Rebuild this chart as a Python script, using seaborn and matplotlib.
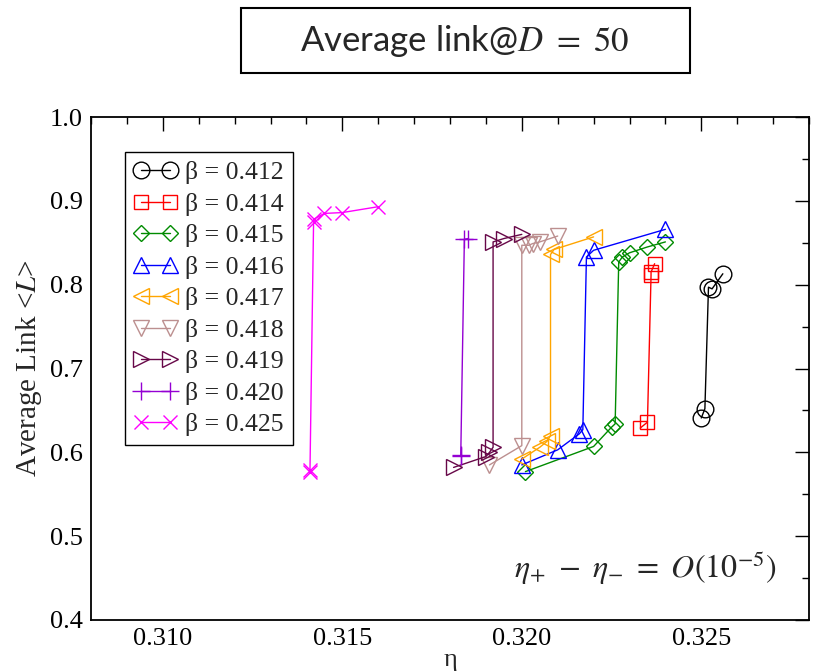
import matplotlib
matplotlib.use("Agg")
import matplotlib.pyplot as plt
import seaborn as sns
import pandas as pd
from matplotlib.ticker import MultipleLocator, FormatStrFormatter
from matplotlib.patches import Rectangle

# ---- data ----
labels = ["β = 0.412", "β = 0.414", "β = 0.415", "β = 0.416", "β = 0.417",
          "β = 0.418", "β = 0.419", "β = 0.420", "β = 0.425"]

eta_412 = [0.3250, 0.3251, 0.3252, 0.3253, 0.3256]
L_412 = [0.641, 0.652, 0.797, 0.795, 0.813]

eta_414 = [0.3233, 0.3235, 0.3236, 0.3236, 0.3237]
L_414 = [0.629, 0.636, 0.811, 0.815, 0.825]

eta_415 = [0.3201, 0.3220, 0.3225, 0.3226, 0.3227, 0.3228, 0.3230, 0.3235, 0.3240]
L_415 = [0.577, 0.607, 0.630, 0.634, 0.827, 0.833, 0.838, 0.845, 0.851]

eta_416 = [0.3200, 0.3210, 0.3216, 0.3217, 0.3218, 0.3220, 0.3240]
L_416 = [0.585, 0.603, 0.622, 0.627, 0.833, 0.841, 0.866]

eta_417 = [0.3200, 0.3205, 0.3207, 0.3208, 0.3208, 0.3209, 0.3220]
L_417 = [0.592, 0.606, 0.613, 0.620, 0.836, 0.842, 0.857]

eta_418 = [0.3191, 0.3200, 0.3200, 0.3202, 0.3203, 0.3205, 0.3210]
L_418 = [0.585, 0.608, 0.847, 0.847, 0.849, 0.851, 0.858]

eta_419 = [0.3181, 0.3190, 0.3191, 0.3192, 0.3192, 0.3195, 0.3200]
L_419 = [0.582, 0.595, 0.600, 0.606, 0.851, 0.855, 0.860]

eta_420 = [0.3183, 0.3183, 0.3184, 0.3185]
L_420 = [0.596, 0.597, 0.854, 0.855]

eta_425 = [0.3141, 0.3141, 0.3142, 0.3142, 0.3145, 0.3150, 0.3160]
L_425 = [0.577, 0.579, 0.875, 0.878, 0.885, 0.886, 0.893]

etas = [eta_412, eta_414, eta_415, eta_416, eta_417, eta_418, eta_419, eta_420, eta_425]
Ls = [L_412, L_414, L_415, L_416, L_417, L_418, L_419, L_420, L_425]

colors = ["#000000", "#FF0000", "#008B00", "#0000FF", "#FFA500",
          "#BC8F8F", "#670748", "#9400D3", "#FF00FF"]
markers = ["o", "s", "D", "^", "<", "v", ">", "+", "x"]
msizes = [12, 10, 8, 12, 12, 12, 12, 13, 10]

# ---- style ----
sns.set_theme(style="white")
plt.rcParams["font.family"] = ["Liberation Serif", "DejaVu Serif"]
plt.rcParams["mathtext.fontset"] = "stix"

fig = plt.figure(figsize=(8.16, 6.71), dpi=100)
ax = fig.add_axes([91 / 816, 1 - 620 / 671, 718 / 816, 503 / 671])

for x, y, lab, c, m, ms in zip(etas, Ls, labels, colors, markers, msizes):
    df = pd.DataFrame({"eta": x, "L": y})
    sns.lineplot(data=df, x="eta", y="L", ax=ax, estimator=None, sort=False,
                 color=c, marker=m, markersize=ms, mfc="none", mec=c, mew=1.0,
                 lw=1.0, label=lab)

ax.set_xlim(0.308, 0.328)
ax.set_ylim(0.4, 1.0)
ax.xaxis.set_major_locator(MultipleLocator(0.005))
ax.xaxis.set_minor_locator(MultipleLocator(0.001))
ax.yaxis.set_major_locator(MultipleLocator(0.1))
ax.yaxis.set_minor_locator(MultipleLocator(0.05))
ax.xaxis.set_major_formatter(FormatStrFormatter("%.3f"))
ax.yaxis.set_major_formatter(FormatStrFormatter("%.1f"))
ax.tick_params(which="both", direction="in", top=True, right=True,
               colors="black", labelsize=19, width=1.0)
ax.tick_params(which="major", length=10, pad=6)
ax.tick_params(which="minor", length=5)
for s in ax.spines.values():
    s.set_color("black")
    s.set_linewidth(1.3)

ax.set_xlabel("η", fontsize=19, labelpad=-1)
ax.set_ylabel(r"Average Link <$L$>", fontsize=21, labelpad=4)

leg = ax.legend(loc="upper left", bbox_to_anchor=(0.047, 0.93), numpoints=2,
                handlelength=1.7, handletextpad=0.3, labelspacing=0.33,
                borderpad=0.35, fontsize=18.5, frameon=True, fancybox=False,
                framealpha=1, edgecolor="black", borderaxespad=0)
leg.get_frame().set_linewidth(1.0)

ax.text(0.772, 0.103, r"$\eta_{+}\ -\ \eta_{-}\ =\ O(10^{-5})$", transform=ax.transAxes,
        ha="center", va="center", fontsize=23)

# title box
fig.patches.append(Rectangle((241 / 816, 1 - 73 / 671), (690 - 241) / 816, 65 / 671,
                             transform=fig.transFigure, fill=False,
                             edgecolor="black", linewidth=1.5))
fig.text(465 / 816, 1 - 41 / 671, r"Average link@$D\ =\ 50$", ha="center", va="center",
         fontsize=25, family=["Lato", "DejaVu Sans"])

fig.savefig("out.png", dpi=100)
